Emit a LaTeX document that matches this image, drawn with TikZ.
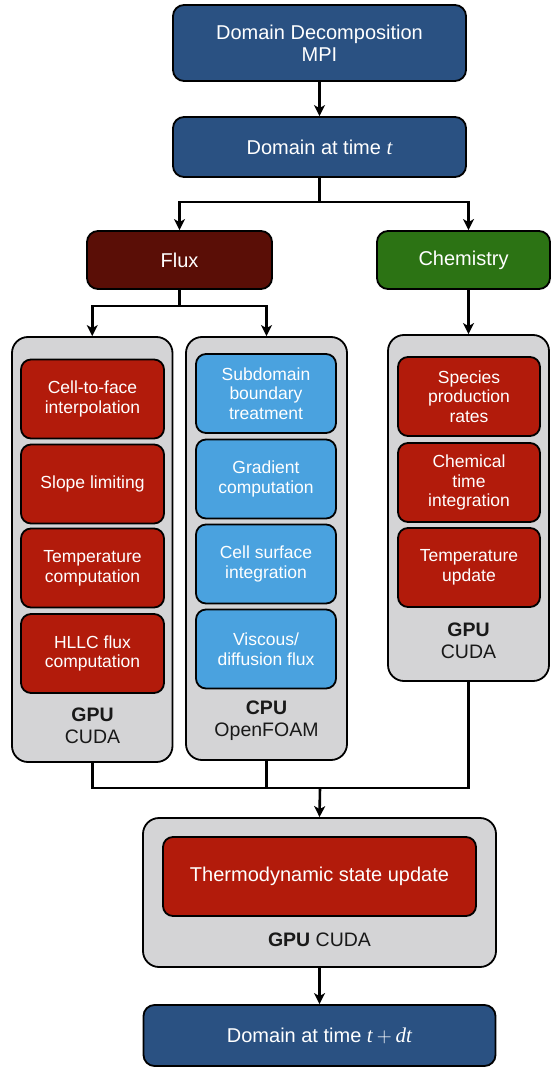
\documentclass[tikz,border=0pt]{standalone}
\usepackage{fontspec}
\setmainfont{Liberation Sans}
\newfontfamily\tmsfont{Liberation Serif}
\usetikzlibrary{arrows.meta}
\definecolor{dblue}{HTML}{2A5182}
\definecolor{fluxred}{HTML}{5A0E06}
\definecolor{chemgreen}{HTML}{2C7314}
\definecolor{boxred}{HTML}{B21B0B}
\definecolor{lblue}{HTML}{4AA2DF}
\definecolor{panelgray}{HTML}{D4D4D6}
\newcommand{\mvar}[1]{{\tmsfont\itshape\fontsize{21}{22}\selectfont #1}}
\tikzset{
  basebox/.style={draw=black, line width=1.8pt, rounded corners=11pt, align=center, inner sep=0pt},
  bluebox/.style={basebox, fill=dblue, text=white, font=\fontsize{20}{22}\selectfont},
  fluxbox/.style={basebox, fill=fluxred, text=white, font=\fontsize{20}{22}\selectfont},
  chembox/.style={basebox, fill=chemgreen, text=white, font=\fontsize{20}{22}\selectfont},
  redbox/.style={basebox, fill=boxred, text=white, rounded corners=10pt, font=\fontsize{17.5}{19.7}\selectfont, minimum width=143pt, minimum height=79pt},
  cyanbox/.style={basebox, fill=lblue, text=white, rounded corners=10pt, font=\fontsize{17.5}{19.7}\selectfont, minimum width=140pt, minimum height=79pt},
  panel/.style={draw=black, line width=1.8pt, fill=panelgray, rounded corners=16pt, inner sep=0pt},
  plabel/.style={text=black!90, align=center, font=\fontsize{19.5}{22}\selectfont, inner sep=0pt},
  conn/.style={line width=2.6pt, black},
  arr/.style={conn, -{Stealth[length=11pt,width=11pt,inset=3pt]}},
}
\begin{document}
\begin{tikzpicture}[x=1pt,y=-1pt]
\useasboundingbox (0,0) rectangle (552,1067);
\fill[white] (0,0) rectangle (552,1067);
% top nodes
\node[bluebox, minimum width=293pt, minimum height=76pt] (dd) at (319.5,43) {Domain Decomposition\\MPI};
\node[bluebox, minimum width=293pt, minimum height=60pt] (dt) at (319.5,147) {Domain at time \mvar{t}};
\node[fluxbox, minimum width=185pt, minimum height=58pt] (flux) at (179.5,260) {Flux};
\node[chembox, minimum width=173pt, minimum height=58pt] (chem) at (463.5,260) {Chemistry};
% panels
\node[panel, minimum width=160.5pt, minimum height=425pt] (p1) at (92.25,549.5) {};
\node[panel, minimum width=161pt, minimum height=423pt] (p2) at (266.5,548.5) {};
\node[panel, minimum width=161pt, minimum height=346pt] (p3) at (468.5,508) {};
% GPU flux boxes
\node[redbox] (a1) at (92.5,399) {Cell-to-face\\interpolation};
\node[redbox] (a2) at (92.5,484) {Slope limiting};
\node[redbox] (a3) at (92.5,568) {Temperature\\computation};
\node[redbox] (a4) at (92.5,653.5) {HLLC flux\\computation};
\node[plabel] (l1) at (92.5,726) {\textbf{GPU}\\CUDA};
% CPU boxes
\node[cyanbox] (b1) at (266,393.5) {Subdomain\\boundary\\treatment};
\node[cyanbox] (b2) at (266,479) {Gradient\\computation};
\node[cyanbox] (b3) at (266,564) {Cell surface\\integration};
\node[cyanbox] (b4) at (266,649) {Viscous/\\diffusion flux};
\node[plabel] (l2) at (266.5,721) {\textbf{CPU}\\OpenFOAM};
% chemistry boxes
\node[redbox, minimum width=142pt] (c1) at (469,396.5) {Species\\production\\rates};
\node[redbox, minimum width=142pt] (c2) at (469,482.5) {Chemical\\time\\integration};
\node[redbox, minimum width=142pt] (c3) at (469,567.5) {Temperature\\update};
\node[plabel] (l3) at (468.5,641) {\textbf{GPU}\\CUDA};
% thermo panel
\node[panel, minimum width=353pt, minimum height=149pt] (p4) at (319.5,892.5) {};
\node[redbox, minimum width=313pt, minimum height=79pt, font=\fontsize{20}{22}\selectfont] (th) at (319.5,876.5) {Thermodynamic state update};
\node[plabel] (l4) at (319.5,940) {\textbf{GPU} CUDA};
\node[bluebox, minimum width=352pt, minimum height=61pt] (dtt) at (319.5,1035.5) {Domain at time \mvar{t}\hspace{4pt}{\fontsize{22}{22}\selectfont$+$}\hspace{4pt}\mvar{dt}};
% connectors
\coordinate (s1) at (319.5,202);
\coordinate (s2) at (179.5,306);
\coordinate (m1) at (320,788);
\draw[arr] (dd.south) -- (dt.north);
\draw[conn] (dt.south) -- (s1);
\draw[arr] (s1) -| (flux.north);
\draw[arr] (s1) -| (chem.north -| p3.north);
\draw[conn] (flux.south) -- (s2);
\draw[arr] (s2) -| (p1.north);
\draw[arr] (s2) -| (p2.north);
\draw[arr] (chem.south -| p3.north) -- (p3.north);
\draw[conn] (p1.south) |- (m1);
\draw[conn] (p2.south) |- (m1);
\draw[conn] (p3.south) |- (m1);
\draw[arr] (m1) -- (p4.north);
\draw[arr] (p4.south) -- (dtt.north);
\end{tikzpicture}
\end{document}
